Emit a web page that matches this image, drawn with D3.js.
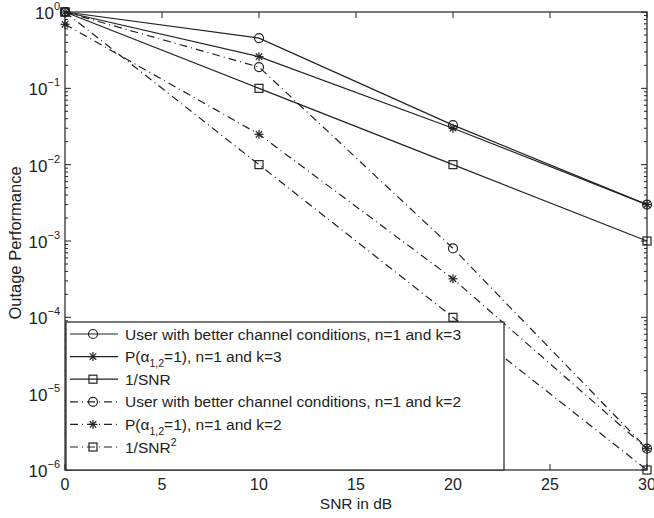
<!DOCTYPE html>
<html>
<head>
<meta charset="utf-8">
<script src="https://cdn.jsdelivr.net/npm/d3@7"></script>
<style>
body { margin: 0; background: #fff; }
svg text { font-family: "Liberation Sans", Arial, sans-serif; fill: #222; }
</style>
</head>
<body>
<div class="container"></div>
<script>
var snr = [0, 10, 20, 30];
var userK3 = [1, 0.455, 0.033, 0.003];
var probK3 = [1, 0.26, 0.03, 0.003];
var invSnr = [1, 0.1, 0.01, 0.001];
var userK2 = [1, 0.19, 0.0008, 1.9e-6];
var probK2 = [0.69, 0.025, 0.00032, 1.9e-6];
var invSnr2 = [1, 0.01, 0.0001, 1e-6];
var xTicks = [0, 5, 10, 15, 20, 25, 30];
var yTicks = [0, -1, -2, -3, -4, -5, -6];

var seriesNames = [
    "User with better channel conditions, n=1 and k=3",
    "P(α1,2=1), n=1 and k=3",
    "1/SNR",
    "User with better channel conditions, n=1 and k=2",
    "P(α1,2=1), n=1 and k=2",
    "1/SNR2"
];
var seriesValues = [userK3, probK3, invSnr, userK2, probK2, invSnr2];
var markers = ["circle", "star", "square", "circle", "star", "square"];
var dashes = [null, null, null, "8,4,1,4", "8,4,1,4", "8,4,1,4"];

var width = 654, height = 518;
var plotLeft = 65, plotRight = 647, plotTop = 12, plotBottom = 470;
var ink = "#222";

var svg = d3.select(".container").append("svg")
    .attr("width", width)
    .attr("height", height);

var x = d3.scaleLinear().domain([0, 30]).range([plotLeft, plotRight]);
var y = d3.scaleLog().domain([1e-6, 1]).range([plotBottom, plotTop]);

// frame
svg.append("rect")
    .attr("x", plotLeft).attr("y", plotTop)
    .attr("width", plotRight - plotLeft).attr("height", plotBottom - plotTop)
    .attr("fill", "none").attr("stroke", ink).attr("stroke-width", 1.2);

// x ticks top and bottom, inward
xTicks.forEach(function (t) {
    svg.append("line").attr("x1", x(t)).attr("x2", x(t))
        .attr("y1", plotBottom).attr("y2", plotBottom - 6).attr("stroke", ink);
    svg.append("line").attr("x1", x(t)).attr("x2", x(t))
        .attr("y1", plotTop).attr("y2", plotTop + 6).attr("stroke", ink);
    svg.append("text")
        .attr("x", x(t)).attr("y", 490)
        .attr("text-anchor", "middle")
        .attr("font-size", 16)
        .text(t);
});

// y major and minor ticks
yTicks.forEach(function (e) {
    var v = Math.pow(10, e);
    [plotLeft, plotRight].forEach(function (xx, k) {
        var dir = k == 0 ? 1 : -1;
        svg.append("line").attr("x1", xx).attr("x2", xx + dir * 6)
            .attr("y1", y(v)).attr("y2", y(v)).attr("stroke", ink);
        if (e > -6) {
            for (var m = 2; m < 10; m++) {
                var mv = v * m / 10;
                svg.append("line").attr("x1", xx).attr("x2", xx + dir * 3)
                    .attr("y1", y(mv)).attr("y2", y(mv)).attr("stroke", ink);
            }
        }
    });
    var lab = svg.append("text")
        .attr("x", 60).attr("y", y(v) + 7)
        .attr("text-anchor", "end")
        .attr("font-size", 17);
    lab.append("tspan").text("10");
    lab.append("tspan").attr("dy", -9).attr("font-size", 11)
        .text(e == 0 ? "0" : "\u2212" + (-e));
});

// axis titles
svg.append("text")
    .attr("x", 356).attr("y", 509)
    .attr("text-anchor", "middle")
    .attr("font-size", 15.5)
    .text("SNR in dB");
svg.append("text")
    .attr("transform", "translate(21,243) rotate(-90)")
    .attr("text-anchor", "middle")
    .attr("font-size", 16.5)
    .text("Outage Performance");

function drawMarker(g, type, cx, cy) {
    if (type == "circle") {
        g.append("circle").attr("cx", cx).attr("cy", cy).attr("r", 4.5)
            .attr("fill", "none").attr("stroke", ink).attr("stroke-width", 1.2);
    } else if (type == "square") {
        g.append("rect").attr("x", cx - 4).attr("y", cy - 4)
            .attr("width", 8).attr("height", 8)
            .attr("fill", "none").attr("stroke", ink).attr("stroke-width", 1.2);
    } else {
        [0, 45, 90, 135].forEach(function (a) {
            var r = a * Math.PI / 180;
            g.append("line")
                .attr("x1", cx - 4.5 * Math.cos(r)).attr("y1", cy - 4.5 * Math.sin(r))
                .attr("x2", cx + 4.5 * Math.cos(r)).attr("y2", cy + 4.5 * Math.sin(r))
                .attr("stroke", ink).attr("stroke-width", 1.2);
        });
    }
}

var line = d3.line()
    .x(function (d) { return x(d[0]); })
    .y(function (d) { return y(d[1]); });

seriesValues.forEach(function (vals, i) {
    var pts = snr.map(function (s, j) { return [s, vals[j]]; });
    svg.append("path")
        .attr("d", line(pts))
        .attr("fill", "none")
        .attr("stroke", ink)
        .attr("stroke-width", 1.2)
        .attr("stroke-dasharray", dashes[i]);
    var g = svg.append("g");
    pts.forEach(function (p) {
        drawMarker(g, markers[i], x(p[0]), y(p[1]));
    });
});

// legend
var lgX = 66, lgY = 322, lgW = 438, lgH = 148;
svg.append("rect")
    .attr("x", lgX).attr("y", lgY)
    .attr("width", lgW).attr("height", lgH)
    .attr("fill", "#fff").attr("stroke", ink).attr("stroke-width", 1.2);

seriesNames.forEach(function (name, i) {
    var cy = 334 + i * 22.6;
    svg.append("line")
        .attr("x1", 70).attr("x2", 118)
        .attr("y1", cy).attr("y2", cy)
        .attr("stroke", ink).attr("stroke-width", 1.2)
        .attr("stroke-dasharray", dashes[i]);
    drawMarker(svg.append("g"), markers[i], 93, cy);
    var t = svg.append("text")
        .attr("x", 125).attr("y", cy + 5.5)
        .attr("font-size", 15.5);
    if (name.indexOf("α") >= 0) {
        t.append("tspan").text("P(α");
        t.append("tspan").attr("dy", 5).attr("font-size", 10.5).text("1,2");
        t.append("tspan").attr("dy", -5).text(name.slice(name.indexOf("=")));
    } else if (name == "1/SNR2") {
        t.append("tspan").text("1/SNR");
        t.append("tspan").attr("dy", -7).attr("font-size", 10.5).text("2");
    } else {
        t.text(name);
    }
});
</script>
</body>
</html>
